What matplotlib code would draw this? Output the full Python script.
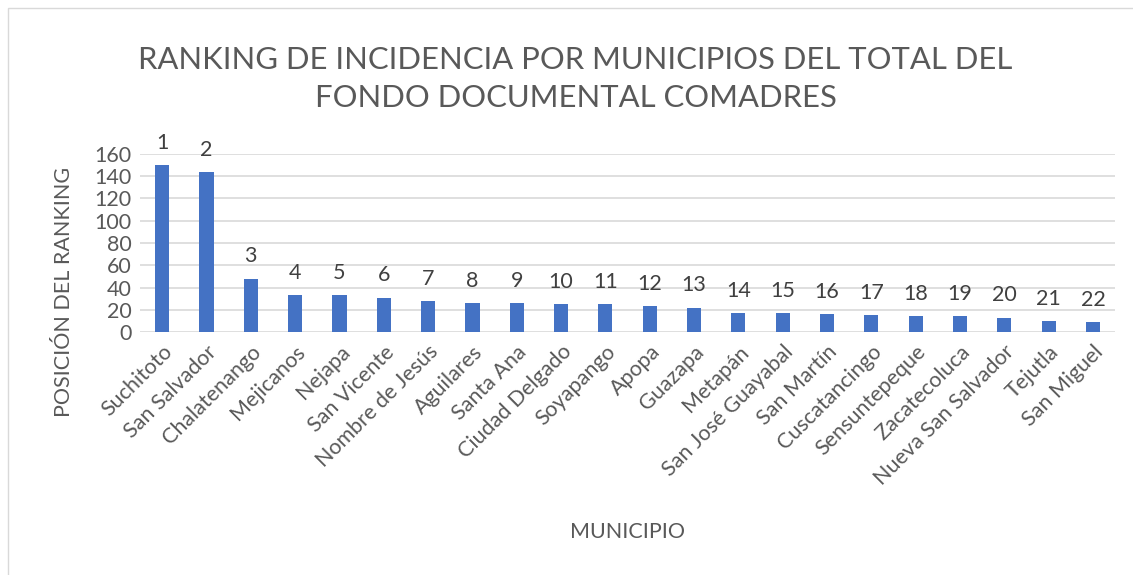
import matplotlib.pyplot as plt
from matplotlib.patches import Rectangle

municipios = ['Suchitoto', 'San Salvador', 'Chalatenango', 'Mejicanos', 'Nejapa',
              'San Vicente', 'Nombre de Jesús', 'Aguilares', 'Santa Ana',
              'Ciudad Delgado', 'Soyapango', 'Apopa', 'Guazapa', 'Metapán',
              'San José Guayabal', 'San Martín', 'Cuscatancingo', 'Sensuntepeque',
              'Zacatecoluca', 'Nueva San Salvador', 'Tejutla', 'San Miguel']
valores = [150, 144, 48, 33, 33, 31, 28, 26, 26, 25, 25, 23, 22, 17, 17, 16, 15,
           14, 14, 13, 10, 9]
ranking = list(range(1, 23))

plt.rcParams['font.family'] = ['Lato', 'DejaVu Sans']
gris = '#595959'

fig = plt.figure(figsize=(11.33, 5.75), dpi=100)
ax = fig.add_axes([0.1236, 0.4226, 0.8606, 0.3096])

x = range(len(municipios))
bars = ax.bar(x, valores, width=0.32, color='#4472c4', zorder=3)
for b, r in zip(bars, ranking):
    ax.text(b.get_x() + b.get_width() / 2, b.get_height() + 11, str(r),
            ha='center', va='bottom', fontsize=15.5, color='#404040', clip_on=False)

ax.set_xlim(-0.5, len(municipios) - 0.5)
ax.set_ylim(0, 160)
ax.set_yticks(range(0, 161, 20))
ax.set_xticks(list(x))
ax.set_xticklabels(municipios, rotation=45, ha='right', rotation_mode='anchor')
ax.tick_params(axis='both', length=0, labelsize=15.5, colors=gris)
ax.tick_params(axis='x', pad=7)
ax.tick_params(axis='y', pad=6)
ax.grid(axis='y', color='#d9d9d9', linewidth=1.2, zorder=0)
for s in ax.spines.values():
    s.set_visible(False)

ax.set_ylabel('POSICIÓN DEL RANKING', fontsize=15.5, color=gris)
ax.yaxis.set_label_coords(-0.068, 0.225)
ax.set_xlabel('MUNICIPIO', fontsize=15.5, color=gris, labelpad=24)
fig.text(0.508, 0.863, 'RANKING DE INCIDENCIA POR MUNICIPIOS DEL TOTAL DEL\nFONDO DOCUMENTAL COMADRES',
         ha='center', va='center', fontsize=22.3, color=gris, linespacing=1.45)

fig.patches.append(Rectangle((0.007, -0.01), 1.0, 0.996, transform=fig.transFigure,
                             fill=False, edgecolor='#d9d9d9', linewidth=1))

plt.savefig('out.png', dpi=100)
